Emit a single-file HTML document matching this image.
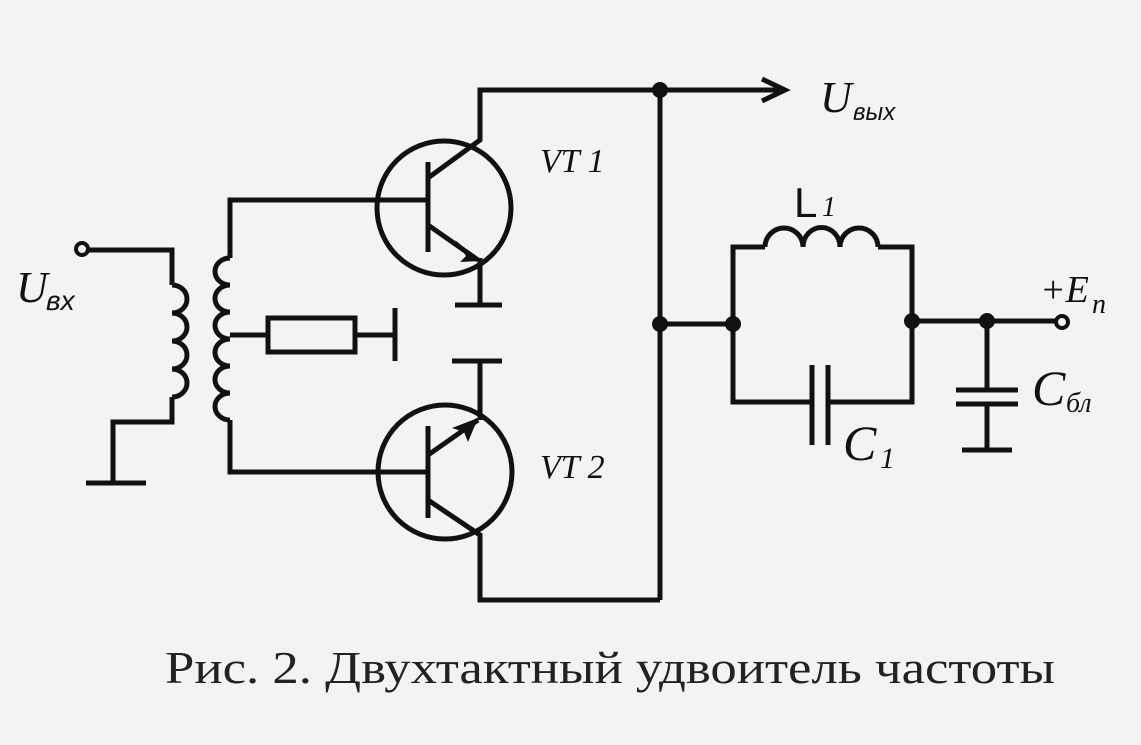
<!DOCTYPE html>
<html><head><meta charset="utf-8"><style>
html,body{margin:0;padding:0;background:#f3f3f3;}
svg{display:block}
</style></head><body>
<svg width="1141" height="745" viewBox="0 0 1141 745" xmlns="http://www.w3.org/2000/svg">
<rect width="1141" height="745" fill="#f3f3f3"/>
<g stroke="#111" stroke-width="5" fill="none" stroke-linejoin="miter">
<circle cx="82" cy="249" r="6" stroke-width="4"/>
<polyline points="88,250 172,250 172,285"/>
<path d="M172,285 a15,14 0 0 1 0,28 a15,14 0 0 1 0,28 a15,14 0 0 1 0,28 a15,14 0 0 1 0,28"/>
<polyline points="172,397 172,422 113,422 113,483"/>
<line x1="86" y1="483" x2="146" y2="483"/>
<polyline points="428,200 230,200 230,258"/>
<path d="M230,258 a15,13.5 0 0 0 0,27 a15,13.5 0 0 0 0,27 a15,13.5 0 0 0 0,27 a15,13.5 0 0 0 0,27 a15,13.5 0 0 0 0,27 a15,13.5 0 0 0 0,27"/>
<polyline points="230,420 230,472 428,472"/>
<line x1="230" y1="335" x2="268" y2="335"/>
<rect x="268" y="318" width="87" height="34"/>
<line x1="355" y1="335" x2="395" y2="335"/>
<line x1="395" y1="308" x2="395" y2="361"/>
<circle cx="444" cy="208" r="67"/>
<line x1="428" y1="162" x2="428" y2="252"/>
<polyline points="428,178 480,140 480,90 780,90"/>
<line x1="428" y1="225" x2="478" y2="260"/>
<polyline points="480,258 480,305"/>
<line x1="455" y1="305" x2="502" y2="305"/>
<line x1="452" y1="361" x2="502" y2="361"/>
<polyline points="480,361 480,420"/>
<circle cx="445" cy="472" r="67"/>
<line x1="428" y1="426" x2="428" y2="518"/>
<line x1="428" y1="455" x2="478" y2="420"/>
<polyline points="428,500 480,535 480,600 660,600"/>
<line x1="660" y1="90" x2="660" y2="600"/>
<line x1="660" y1="324" x2="733" y2="324"/>
<polyline points="765,247 733,247 733,402 812,402"/>
<polyline points="828,402 912,402 912,247 878,247"/>
<path d="M765,247 a19,19 0 0 1 38,0 a18,19 0 0 1 37,0 a19,19 0 0 1 38,0"/>
<line x1="812" y1="365" x2="812" y2="445"/>
<line x1="828" y1="365" x2="828" y2="445"/>
<line x1="912" y1="321" x2="1056" y2="321"/>
<circle cx="1062" cy="322" r="6" stroke-width="4"/>
<polyline points="987,321 987,390"/>
<line x1="956" y1="390" x2="1018" y2="390"/>
<line x1="956" y1="404" x2="1018" y2="404"/>
<polyline points="987,404 987,450"/>
<line x1="962" y1="450" x2="1012" y2="450"/>
<polyline points="762,79 785,90 762,101"/>
</g>
<g fill="#111">
<polygon points="480,261 455,240 466,256 460,262"/>
<polygon points="478,418 452,428 464,432 468,442"/>
<circle cx="660" cy="90" r="8"/>
<circle cx="660" cy="324" r="8"/>
<circle cx="733" cy="324" r="8"/>
<circle cx="912" cy="321" r="8"/>
<circle cx="987" cy="321" r="8"/>
</g>
<g font-family="Liberation Serif, serif" font-style="italic" fill="#111">
<text x="540" y="172" font-size="34">VT 1</text>
<text x="540" y="478" font-size="34">VT 2</text>
<text x="16" y="302" font-size="44">U</text><text x="46" y="310" font-size="28" font-family="Liberation Sans, sans-serif">вх</text>
<text x="820" y="112" font-size="44">U</text><text x="853" y="120" font-size="24" font-family="Liberation Sans, sans-serif">вых</text>
<text x="794" y="217" font-size="42" font-style="normal" font-family="Liberation Sans, sans-serif">L</text><text x="822" y="216" font-size="28">1</text>
<text x="1040" y="302" font-size="38">+E</text><text x="1092" y="313" font-size="28">п</text>
<text x="843" y="460" font-size="50">C</text><text x="880" y="468" font-size="30">1</text>
<text x="1032" y="405" font-size="50">C</text><text x="1066" y="412" font-size="28">бл</text>
</g>
<text x="165" y="683" font-family="Liberation Serif, serif" font-size="46" fill="#222" textLength="890" lengthAdjust="spacingAndGlyphs">Рис. 2. Двухтактный удвоитель частоты</text>
</svg>
</body></html>
